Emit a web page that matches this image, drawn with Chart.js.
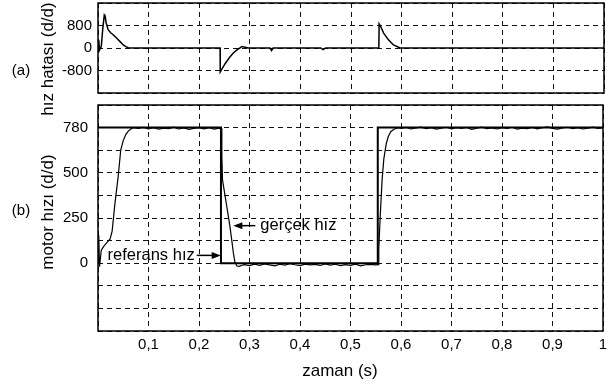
<!DOCTYPE html>
<html><head><meta charset="utf-8">
<script src="https://cdn.jsdelivr.net/npm/chart.js@4.4.1/dist/chart.umd.min.js"></script>
<style>
html,body{margin:0;padding:0;background:#fff;}
#wrap{position:relative;width:614px;height:385px;overflow:hidden;}
canvas{position:absolute;left:0;top:0;}
</style></head><body>
<div id="wrap">
<canvas id="bot" width="614" height="385"></canvas>
<canvas id="top" width="614" height="130"></canvas>
</div>
<script>
// ---- tick labels ----
const xTickLabels = ['', '0,1', '0,2', '0,3', '0,4', '0,5', '0,6', '0,7', '0,8', '0,9', '1'];
const errTickValues = [-800, 0, 800];
const errTickLabels = ['-800', '0', '800'];
const speedTickValues = [0, 260, 520, 780];
const speedTickLabels = ['0', '250', '500', '780'];

// ---- (a) speed error, d/d ----
const errTime = [0, 0.0015, 0.003, 0.0065, 0.0095, 0.0125, 0.014, 0.016, 0.020, 0.025,
  0.030, 0.035, 0.040, 0.045, 0.050, 0.055, 0.060, 0.065, 0.10, 0.15,
  0.20, 0.2413, 0.2416, 0.2445, 0.2515, 0.261, 0.268, 0.2746, 0.2846, 0.297,
  0.340, 0.343, 0.346, 0.440, 0.445, 0.450, 0.5550, 0.5556, 0.558, 0.5645,
  0.574, 0.584, 0.597, 0.65, 0.70, 0.80, 0.90, 1.00];
const errValue = [0, 290, -70, 50, 700, 1180, 1150, 900, 650, 540,
  470, 380, 290, 200, 110, 50, 10, 0, 0, 0,
  0, 0, -850, -760, -550, -310, -170, -65, 50, 0,
  0, -90, 0, 0, -60, 0, 0, 860, 790, 530,
  290, 110, 0, 0, 0, 0, 0, 0];

// ---- (b) reference speed ----
const refTime = [0, 0.2435, 0.2435, 0.554, 0.554, 1.0];
const refSpeed = [780, 780, 0, 0, 780, 780];

// ---- (b) actual speed ----
const speedTime = [
  0, 0.0015, 0.003, 0.0065, 0.012, 0.018, 0.024, 0.028, 0.033, 0.040, 0.045, 0.050, 0.055, 0.060, 0.065, 0.070,
  0.08, 0.09, 0.10, 0.11, 0.12, 0.13, 0.14, 0.15, 0.16, 0.17, 0.18, 0.19, 0.20, 0.21, 0.22, 0.23, 0.24,
  0.2436, 0.2452, 0.2466, 0.2540, 0.2611, 0.2650, 0.2680, 0.2710, 0.2750, 0.2800, 0.2850,
  0.29, 0.30, 0.31, 0.32, 0.33, 0.34, 0.35, 0.36, 0.37, 0.38, 0.39, 0.40, 0.41, 0.42,
  0.43, 0.44, 0.45, 0.46, 0.47, 0.48, 0.49, 0.50, 0.51, 0.52, 0.53, 0.54, 0.55,
  0.5545, 0.556, 0.5585, 0.5625, 0.566, 0.571, 0.575, 0.580, 0.587, 0.595,
  0.60, 0.61, 0.62, 0.63, 0.64, 0.65, 0.66, 0.67, 0.68, 0.69, 0.70, 0.71, 0.72, 0.73,
  0.74, 0.75, 0.76, 0.77, 0.78, 0.79, 0.80, 0.81, 0.82, 0.83, 0.84, 0.85, 0.86, 0.87,
  0.88, 0.89, 0.90, 0.91, 0.92, 0.93, 0.94, 0.95, 0.96, 0.97, 0.98, 0.99, 1.00];
const actualSpeed = [
  0, 160, -20, 75, 100, 120, 140, 185, 330, 500, 650, 705, 740, 760, 772, 779,
  776, 781, 773, 779, 771, 777, 774, 782, 772, 778, 770, 776, 780, 773, 779, 771, 777,
  776, 620, 478, 345, 215, 130, 60, 8, -16, -18, -12,
  -8, -14, -5, -12, -4, -10, -15, -6, -11, -3, -9, -14, -5, -10,
  -7, -13, -4, -11, -6, -14, -8, -12, -5, -15, -9, -7, -10,
  -8, 80, 250, 478, 600, 690, 730, 758, 772, 779,
  775, 781, 772, 778, 783, 774, 779, 771, 777, 782, 773, 779, 775, 781,
  770, 777, 783, 774, 778, 772, 780, 776, 782, 771, 777, 774, 781, 773,
  779, 784, 775, 771, 778, 782, 774, 780, 772, 777, 783, 775, 779];

// ---- annotations (anchored at data coordinates) ----
const notes = [
  {text: 'referans hız', t: 0.2430, v: 45, side: 'left'},
  {text: 'gerçek hız', t: 0.2680, v: 216, side: 'right'}
];

const FONT = '"Liberation Sans", Arial, Helvetica, sans-serif';
Chart.defaults.font.family = FONT;
Chart.defaults.color = '#000';

const pts = (t, v) => t.map((x, i) => ({x: x, y: v[i]}));

function drawArrow(ctx, x1, y, x2) {
  const dir = Math.sign(x2 - x1);
  ctx.beginPath(); ctx.moveTo(x1, y); ctx.lineTo(x2 - dir * 4, y); ctx.stroke();
  ctx.beginPath(); ctx.moveTo(x2, y); ctx.lineTo(x2 - dir * 9, y - 3.5); ctx.lineTo(x2 - dir * 9, y + 3.5);
  ctx.closePath(); ctx.fill();
}

const framePlugin = {
  id: 'frame',
  afterDraw(chart, args, opts) {
    const ctx = chart.ctx, a = chart.chartArea;
    ctx.save();
    ctx.strokeStyle = '#000'; ctx.lineWidth = 1.5;
    ctx.strokeRect(a.left, a.top, a.right - a.left, a.bottom - a.top);
    ctx.fillStyle = '#000';
    (opts.texts || []).forEach(o => {
      ctx.save();
      ctx.font = o.font + ' ' + FONT;
      ctx.textAlign = 'center'; ctx.textBaseline = 'middle';
      ctx.translate(o.x, o.y);
      if (o.rot) ctx.rotate(o.rot);
      ctx.fillText(o.text, 0, 0);
      ctx.restore();
    });
    (opts.notes || []).forEach(n => {
      const px = chart.scales.x.getPixelForValue(n.t);
      const py = chart.scales.y.getPixelForValue(n.v);
      ctx.font = '16.5px ' + FONT;
      ctx.textBaseline = 'middle';
      ctx.lineWidth = 1.5;
      if (n.side === 'left') {
        drawArrow(ctx, px - 24, py, px);
        ctx.textAlign = 'right';
        ctx.fillText(n.text, px - 26, py);
      } else {
        drawArrow(ctx, px + 22, py, px);
        ctx.textAlign = 'left';
        ctx.fillText(n.text, px + 27, py);
      }
    });
    ctx.restore();
  }
};

const gridCfg = {color: '#111', lineWidth: 1, drawTicks: false};
const borderCfg = {display: false, dash: [5, 4]};

// ---- bottom chart: motor speed ----
new Chart(document.getElementById('bot'), {
  type: 'line',
  data: {datasets: [
    {data: pts(speedTime, actualSpeed), borderColor: '#000', borderWidth: 1.2, pointRadius: 0, tension: 0},
    {data: pts(refTime, refSpeed), borderColor: '#000', borderWidth: 2, pointRadius: 0, tension: 0}
  ]},
  options: {
    responsive: false, animation: false, devicePixelRatio: 1,
    layout: {padding: {top: 105, right: 11, left: 0, bottom: 0}},
    plugins: {legend: {display: false}, tooltip: {enabled: false},
      frame: {
        texts: [
          {text: 'motor hızı (d/d)', x: 48, y: 212, rot: -Math.PI / 2, font: '17px'},
          {text: '(b)', x: 21, y: 211, font: '15px'},
          {text: 'zaman (s)', x: 340, y: 371, font: '17px'}
        ],
        notes: notes
      }},
    scales: {
      x: {type: 'linear', min: 0, max: 1,
        ticks: {stepSize: 0.1, padding: 5, maxRotation: 0, autoSkip: false, font: {size: 15},
          callback: v => xTickLabels[Math.round(v * 10)] ?? ''},
        grid: gridCfg, border: borderCfg,
        afterFit: s => { s.height = 54; s.paddingLeft = 0; s.paddingRight = 0; }},
      y: {type: 'linear', min: -390, max: 910,
        ticks: {stepSize: 130, padding: 10, autoSkip: false, font: {size: 15},
          callback: v => { const i = speedTickValues.indexOf(Math.round(v)); return i >= 0 ? speedTickLabels[i] : ''; }},
        grid: gridCfg, border: borderCfg,
        afterFit: s => { s.width = 98; s.paddingTop = 0; s.paddingBottom = 0; }}
    }
  },
  plugins: [framePlugin]
});

// ---- top chart: speed error ----
new Chart(document.getElementById('top'), {
  type: 'line',
  data: {datasets: [
    {data: pts(errTime, errValue), borderColor: '#000', borderWidth: 1.5, pointRadius: 0, tension: 0}
  ]},
  options: {
    responsive: false, animation: false, devicePixelRatio: 1,
    layout: {padding: {top: 3, right: 10, left: 0, bottom: 37}},
    plugins: {legend: {display: false}, tooltip: {enabled: false},
      frame: {
        texts: [
          {text: 'hız hatası (d/d)', x: 48, y: 59, rot: -Math.PI / 2, font: '17px'},
          {text: '(a)', x: 21, y: 71, font: '15px'}
        ]
      }},
    scales: {
      x: {type: 'linear', min: 0, max: 1,
        ticks: {stepSize: 0.1, display: false},
        grid: gridCfg, border: borderCfg,
        afterFit: s => { s.height = 0; s.paddingLeft = 0; s.paddingRight = 0; }},
      y: {type: 'linear', min: -1600, max: 1600,
        ticks: {stepSize: 800, padding: 6, autoSkip: false, font: {size: 15},
          callback: v => { const i = errTickValues.indexOf(Math.round(v)); return i >= 0 ? errTickLabels[i] : ''; }},
        grid: gridCfg, border: borderCfg,
        afterFit: s => { s.width = 98; s.paddingTop = 0; s.paddingBottom = 0; }}
    }
  },
  plugins: [framePlugin]
});
</script>
</body></html>
